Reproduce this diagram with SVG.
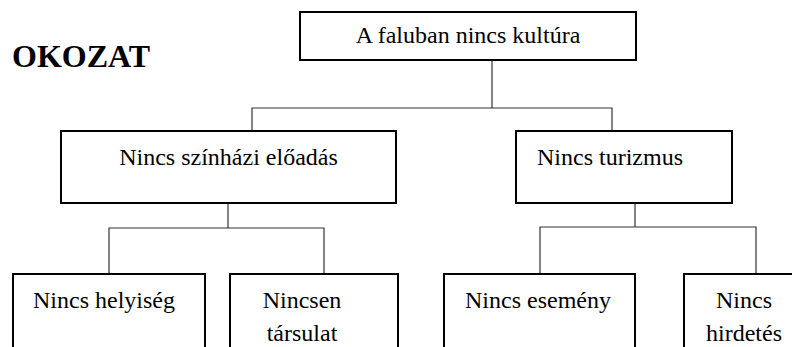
<svg xmlns="http://www.w3.org/2000/svg" width="792" height="347" viewBox="0 0 792 347">
<style>
.box{fill:#fff;stroke:#000;stroke-width:2}
.lbl{font-family:'Liberation Serif','DejaVu Serif',serif;font-size:24px;fill:#000}
.mid{text-anchor:middle}
.conn{fill:none;stroke:#333;stroke-width:1.2}
.title{font-family:'Liberation Serif','DejaVu Serif',serif;font-size:32px;font-weight:bold;fill:#000}
</style>
<rect width="792" height="347" fill="#fff"/>
<text class="title" x="12" y="67">OKOZAT</text>
<g id="connectors">
<path class="conn" d="M492 60V108M252 131V108H612V131"/>
<path class="conn" d="M228 203V228M109 274V228H324V274"/>
<path class="conn" d="M635 203V227M540 274V227H756V274"/>
</g>
<g id="n-root">
<rect class="box" x="300" y="12" width="336" height="48"/>
<text class="lbl mid" x="468" y="43">A faluban nincs kultúra</text>
</g>
<g id="n-szinhaz">
<rect class="box" x="61" y="131" width="335" height="72"/>
<text class="lbl mid" x="228.5" y="165">Nincs színházi előadás</text>
</g>
<g id="n-turizmus">
<rect class="box" x="516" y="131" width="216" height="72"/>
<text class="lbl" x="537" y="165">Nincs turizmus</text>
</g>
<g id="n-helyiseg">
<rect class="box" x="13" y="274" width="192" height="90"/>
<text class="lbl mid" x="104" y="308">Nincs helyiség</text>
</g>
<g id="n-tarsulat">
<rect class="box" x="230" y="274" width="168" height="90"/>
<text class="lbl mid" x="302" y="308">Nincsen</text>
<text class="lbl mid" x="302" y="341">társulat</text>
</g>
<g id="n-esemeny">
<rect class="box" x="444" y="274" width="191" height="90"/>
<text class="lbl mid" x="538" y="308">Nincs esemény</text>
</g>
<g id="n-hirdetes">
<rect class="box" x="684" y="274" width="120" height="90"/>
<text class="lbl mid" x="744" y="308">Nincs</text>
<text class="lbl mid" x="744" y="341">hirdetés</text>
</g>
</svg>
